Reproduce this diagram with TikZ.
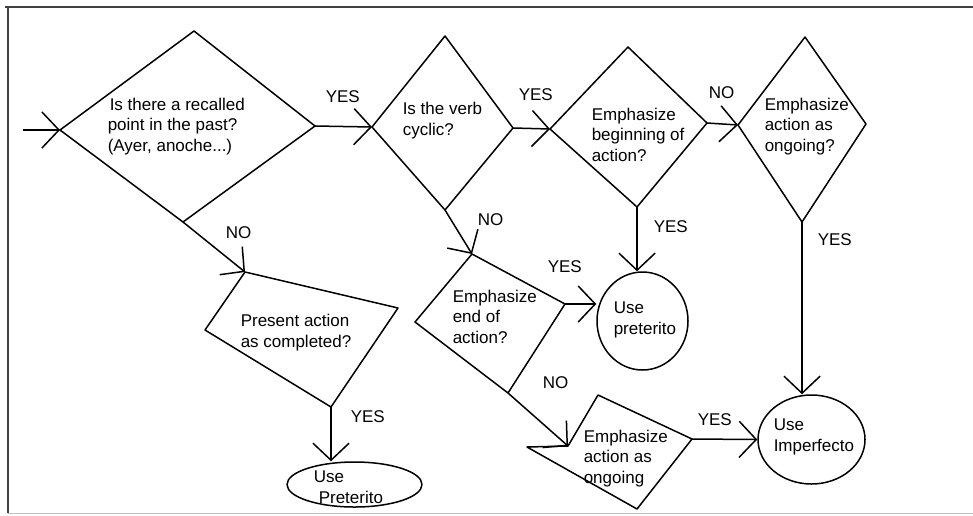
\documentclass[tikz,border=0pt]{standalone}
\usepackage{fontspec}
\setmainfont{Liberation Sans}
\usetikzlibrary{arrows.meta,shapes.geometric}

\begin{document}
\begin{tikzpicture}[x=1pt,y=-1pt,
  line width=1.5pt, line join=round,
  flow/.style={draw, -{Straight Barb[length=17pt,width=36pt]}},
  outline/.style={draw},
  % multi-line blocks are placed by the baseline of their last line
  txt/.style={inner sep=0pt, anchor=base west, align=left,
    font=\fontsize{17}{20.5}\selectfont},
  lbl/.style={inner sep=0pt, anchor=base west,
    font=\fontsize{17}{20.5}\selectfont},
  term/.style={draw, ellipse, inner sep=0pt}]

\useasboundingbox (0,0) rectangle (973,515);

% frame
\draw[line width=1.8pt, black!75] (5,7) -- (973,7);
\draw[line width=1.8pt, black!75] (8,7) -- (8,513);
\draw[line width=0.8pt, black!25] (8,513) -- (973,513);

% decision 1
\coordinate (d1t) at (194,31);  \coordinate (d1r) at (315,126);
\coordinate (d1b) at (183,222); \coordinate (d1l) at (60,130);
\draw[outline] (d1t) -- (d1r) -- (d1b) -- (d1l) -- cycle;
\node[txt] (q1) at (107,151) {\hspace*{2pt}Is there a recalled\\point in the past?\\(Ayer, anoche...)};

% decision 2
\coordinate (d2t) at (445,36);  \coordinate (d2r) at (513,128);
\coordinate (d2b) at (445,210); \coordinate (d2l) at (372,127);
\draw[outline] (d2t) -- (d2r) -- (d2b) -- (d2l) -- cycle;
\node[txt] (q2) at (402,135) {Is the verb\\cyclic?};

% decision 3
\coordinate (d3t) at (628,47);  \coordinate (d3r) at (707,123);
\coordinate (d3b) at (637,207); \coordinate (d3l) at (550,129);
\draw[outline] (d3t) -- (d3r) -- (d3b) -- (d3l) -- cycle;
\node[txt] (q3) at (591,161) {Emphasize\\beginning of\\action?};

% decision 4
\coordinate (d4t) at (805,37);  \coordinate (d4r) at (866,124);
\coordinate (d4b) at (802,222); \coordinate (d4l) at (738,125);
\draw[outline] (d4t) -- (d4r) -- (d4b) -- (d4l) -- cycle;
\node[txt] (q4) at (764,151) {Emphasize\\action as\\ongoing?};

% decision 5
\coordinate (d5t) at (472,254); \coordinate (d5r) at (565,304);
\coordinate (d5b) at (508,393); \coordinate (d5l) at (415,322);
\draw[outline] (d5t) -- (d5r) -- (d5b) -- (d5l) -- cycle;
\node[txt] (q5) at (452,343) {Emphasize\\end of\\action?};

% decision 6
\coordinate (d6t) at (598,395); \coordinate (d6r) at (692,439);
\coordinate (d6b) at (637,509); \coordinate (d6l) at (527,447);
\coordinate (d6n) at (568,446);
\draw[outline] (d6t) -- (d6r) -- (d6b) -- (d6l) -- (d6n) -- cycle;
\node[txt] (q6) at (583,483) {Emphasize\\action as\\ongoing};

% decision 7
\coordinate (d7t) at (245,272); \coordinate (d7r) at (398,308);
\coordinate (d7b) at (331,407); \coordinate (d7l) at (205,330);
\draw[outline] (d7t) -- (d7r) -- (d7b) -- (d7l) -- cycle;
\node[txt] (q7) at (240,347) {Present action\\as completed?};

% outcomes
\node[term, minimum width=135pt, minimum height=45pt] (upre) at (354.5,484.5) {};
\node[txt] (upret) at (313,503) {Use\\\hspace*{5pt}Preterito};
\node[term, minimum width=91pt, minimum height=98pt] (pret) at (642.5,321) {};
\node[txt] (prett) at (613,334) {Use\\preterito};
\node[term, minimum width=107pt, minimum height=89pt] (imp) at (811.5,439.5) {};
\node[txt] (impt) at (773,451) {Use\\Imperfecto};

% connectors
\coordinate (start) at (23,130);
\draw[flow] (start) -- (d1l);
\draw[flow] (d1r) -- (d2l);
\draw[flow] (d2r) -- (d3l);
\draw[flow] (d3r) -- (d4l);
\draw[flow] (d1b) -- (d7t);
\draw[flow] (d2b) -- (d5t);
\draw[flow] (d5b) -- (d6n);
\draw[flow] (d3b) -- (d3b |- pret.north);
\draw[flow] (d5r) -- (d5r -| pret.west);
\draw[flow] (d4b) -- (d4b |- imp.north);
\draw[flow] (d6r) -- (imp.west);
\draw[flow] (d7b) -- (d7b |- upre.north);

% branch labels
\node[lbl] (l1) at (325,102) {YES};
\node[lbl] (l2) at (518,100) {YES};
\node[lbl] (l3) at (708,98) {NO};
\node[lbl] (l4) at (225,238) {NO};
\node[lbl] (l5) at (477,225) {NO};
\node[lbl] (l6) at (653,232) {YES};
\node[lbl] (l7) at (547,272) {YES};
\node[lbl] (l8) at (542,388) {NO};
\node[lbl] (l9) at (817,245) {YES};
\node[lbl] (l10) at (697,425) {YES};
\node[lbl] (l11) at (350,422) {YES};
\end{tikzpicture}
\end{document}
